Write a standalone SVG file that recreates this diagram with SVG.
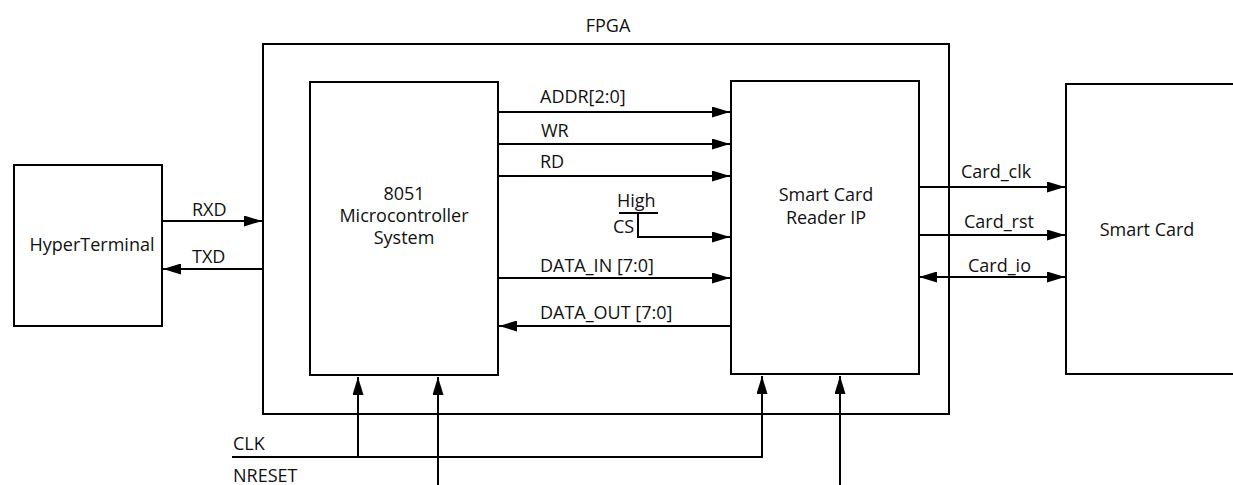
<svg xmlns="http://www.w3.org/2000/svg" width="1233" height="485" viewBox="0 0 1233 485">
<defs>
<style>
.box{fill:#fff;stroke:#000;stroke-width:2}
.w{fill:none;stroke:#000;stroke-width:2}
.a{marker-end:url(#ah)}
text{font-family:"Open Sans","Noto Sans",sans-serif;font-size:18px;fill:#111}
.m{text-anchor:middle}
</style>
<marker id="ah" markerUnits="userSpaceOnUse" markerWidth="18" markerHeight="11" refX="18" refY="5.5" orient="auto-start-reverse">
<path d="M0,0 L18,5.5 L0,11 z" fill="#000"/>
</marker>
</defs>
<g id="fpga">
<rect class="box" x="263" y="44" width="686" height="370"/>
<text class="m" x="608" y="32">FPGA</text>
</g>
<g id="hyperterminal">
<rect class="box" x="14" y="165" width="148" height="161"/>
<text class="m" x="92" y="251">HyperTerminal</text>
</g>
<g id="mcu">
<rect class="box" x="310" y="82" width="188" height="293"/>
<text class="m" x="404" y="200">8051</text>
<text class="m" x="404" y="222">Microcontroller</text>
<text class="m" x="404" y="244">System</text>
</g>
<g id="reader">
<rect class="box" x="731" y="81" width="188" height="293"/>
<text class="m" x="826" y="201">Smart Card</text>
<text class="m" x="826" y="224">Reader IP</text>
</g>
<g id="smartcard">
<rect class="box" x="1066" y="84" width="180" height="290"/>
<text class="m" x="1147" y="236">Smart Card</text>
</g>
<g id="connectors">
<path class="w a" d="M162,221 H262"/>
<path class="w a" d="M263,269 H163"/>
<path class="w a" d="M498,112 H730"/>
<path class="w a" d="M498,144 H730"/>
<path class="w a" d="M498,176 H730"/>
<path class="w" d="M619,213 H658"/>
<path class="w a" d="M638,213 V237 H730"/>
<path class="w a" d="M498,278 H730"/>
<path class="w a" d="M731,326 H499"/>
<path class="w a" d="M919,187 H1065"/>
<path class="w a" d="M919,235 H1065"/>
<path class="w a" d="M919,277 H1065" style="marker-start:url(#ah)"/>
<path class="w a" d="M232,457 H762 V376"/>
<path class="w a" d="M358,457 V377"/>
<path class="w a" d="M438,486 V377"/>
<path class="w a" d="M840,486 V376"/>
<text x="192" y="216">RXD</text>
<text x="192" y="263">TXD</text>
<text x="540" y="103">ADDR[2:0]</text>
<text x="541" y="137">WR</text>
<text x="540" y="168">RD</text>
<text x="617" y="207">High</text>
<text x="613" y="233">CS</text>
<text x="540" y="272">DATA_IN [7:0]</text>
<text x="540" y="319">DATA_OUT [7:0]</text>
<text x="961" y="178">Card_clk</text>
<text x="964" y="228">Card_rst</text>
<text x="968" y="272">Card_io</text>
<text x="233" y="450">CLK</text>
<text x="233" y="482">NRESET</text>
</g>
</svg>
